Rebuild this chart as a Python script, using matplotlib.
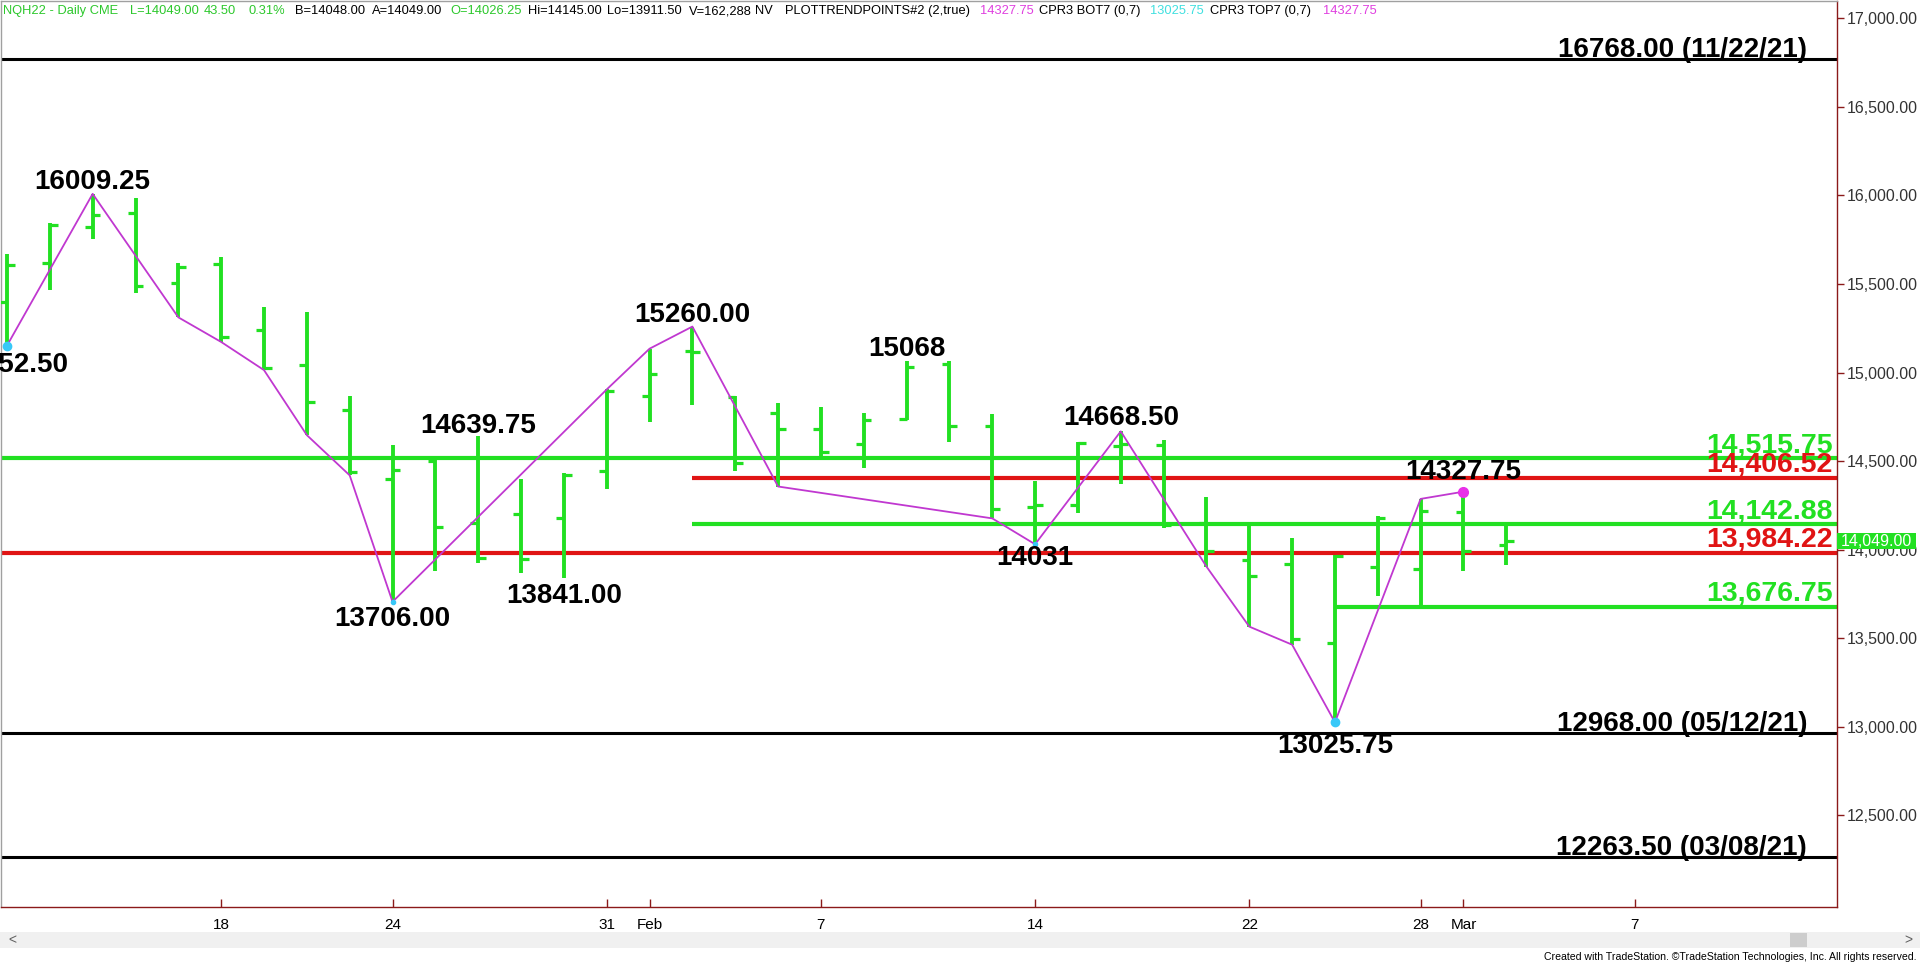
import numpy as np
import matplotlib.pyplot as plt
from matplotlib.patches import Rectangle
import matplotlib.transforms as mtransforms

plt.rcParams['font.family'] = ['Liberation Sans', 'DejaVu Sans']

# -------------------------------
# Daily bars NQH22 (Jan 10 - Mar 2, 2022)
# -------------------------------
dates = ['01/10', '01/11', '01/12', '01/13', '01/14', '01/18', '01/19', '01/20',
         '01/21', '01/24', '01/25', '01/26', '01/27', '01/28', '01/31', '02/01',
         '02/02', '02/03', '02/04', '02/07', '02/08', '02/09', '02/10', '02/11',
         '02/14', '02/15', '02/16', '02/17', '02/18', '02/22', '02/23', '02/24',
         '02/25', '02/28', '03/01', '03/02']
opens = [15400, 15619, 15824, 15900, 15505, 15616, 15239, 15042,
         14790, 14400, 14500, 14150, 14200, 14180, 14445, 14870,
         15120, 14860, 14770, 14680, 14595, 14740, 15050, 14696,
         14240, 14250, 14585, 14590, 14150, 13943, 13920, 13471,
         13905, 13892, 14212, 14026.25]
highs = [15672, 15845, 16009.25, 15985, 15620, 15655, 15370, 15343,
         14869, 14592, 14515, 14639.75, 14401, 14435, 14905, 15135,
         15260, 14870, 14830, 14806, 14772, 15064, 15068, 14768,
         14390, 14610, 14668.50, 14618, 14297, 14150, 14065, 13973,
         14193, 14287, 14327.75, 14145]
lows = [15152.50, 15464, 15754, 15450, 15312, 15173, 15014, 14647,
        14420, 13706, 13880, 13927, 13870, 13841, 14345, 14720,
        14815, 14446, 14357, 14520, 14460, 14730, 14608, 14177,
        14031, 14210, 14370, 14120, 13905, 13566, 13464, 13025.75,
        13741, 13676.75, 13882, 13911.50]
closes = [15606, 15832, 15889, 15487, 15597, 15201, 15028, 14834,
          14440, 14450, 14130, 13955, 13950, 14420, 14895, 14990,
          15115, 14490, 14680, 14550, 14730, 15030, 14696, 14232,
          14250, 14600, 14595, 14138, 13995, 13854, 13496, 13962,
          14180, 14221, 13995, 14049]

# date axis labels (bar index -> label), 38 = Mar 7 (future)
tick_idx = [5, 9, 14, 15, 19, 24, 29, 33, 34, 38]
tick_labels = ['18', '24', '31', 'Feb', '7', '14', '22', '28', 'Mar', '7']

# trend point zigzag (bar index, price)
zz_idx = [0, 2, 4, 5, 6, 7, 8, 9, 14, 15, 16, 18, 23, 24, 26, 28, 29, 30, 31, 33, 34]
zz_price = [15152.50, 16009.25, 15312, 15173, 15014, 14647, 14420, 13706, 14905,
            15135, 15260, 14357, 14177, 14031, 14668.50, 13905, 13566, 13464,
            13025.75, 14287, 14327.75]

# pivot labels
piv_idx = [0, 2, 9, 11, 13, 16, 21, 24, 26, 31, 34]
piv_price = [15152.50, 16009.25, 13706.00, 14639.75, 13841.00, 15260.00,
             15068, 14031, 14668.50, 13025.75, 14327.75]
piv_text = ['15152.50', '16009.25', '13706.00', '14639.75', '13841.00', '15260.00',
            '15068', '14031', '14668.50', '13025.75', '14327.75']
piv_side = ['below', 'above', 'below', 'above', 'below', 'above',
            'above', 'below', 'above', 'below', 'above']

# historical levels
level_prices = [16768.00, 12968.00, 12263.50]
level_texts = ['16768.00 (11/22/21)', '12968.00 (05/12/21)', '12263.50 (03/08/21)']

# CPR levels (start bar index, -1 = whole chart)
cpr_prices = [14515.75, 14406.52, 14142.88, 13984.22, 13676.75]
cpr_texts = ['14,515.75', '14,406.52', '14,142.88', '13,984.22', '13,676.75']
cpr_start = [-1, 16, 16, -1, 31]
cpr_kind = ['top', 'bot', 'top', 'bot', 'top']

last_price = 14049.00

GREEN = '#22E022'
RED = '#E01414'
MAGENTA = '#C038D0'
AXCOL = '#8B1A1A'

# -------------------------------
# Figure
# -------------------------------
W, H = 1920, 963
fig = plt.figure(figsize=(W / 100, H / 100), dpi=100)
ax_l, ax_r = 1 / W, 1837 / W
ax_b, ax_t = 1 - 907 / H, 1 - 1 / H
ax = fig.add_axes([ax_l, ax_b, ax_r - ax_l, ax_t - ax_b])

x = np.arange(len(dates))
xmax = 42.72
ax.set_xlim(-0.14, xmax)
ax.set_ylim(11983, 17098)

# levels
for p, t in zip(level_prices, level_texts):
    ax.axhline(p, color='black', lw=2.2, zorder=2)
    ax.annotate(t, (42.02, p), xytext=(0, 2), textcoords='offset pixels',
                ha='right', va='baseline', fontsize=20, fontweight='bold', color='black')

for p, t, s, k in zip(cpr_prices, cpr_texts, cpr_start, cpr_kind):
    c = GREEN if k == 'top' else RED
    x0 = -1 if s < 0 else s
    ax.hlines(p, x0, xmax + 1, color=c, lw=3.0, zorder=2)
    ax.annotate(t, (xmax - 0.1, p), xytext=(0, 6), textcoords='offset pixels',
                ha='right', va='baseline', fontsize=20.5, fontweight='bold', color=c,
                zorder=6)

# OHLC bars
tk = 0.18
ax.vlines(x, lows, highs, color=GREEN, lw=2.8, zorder=3)
ax.hlines(opens, x - tk, x, color=GREEN, lw=2.3, zorder=3)
ax.hlines(closes, x, x + tk, color=GREEN, lw=2.3, zorder=3)

# zigzag
ax.plot(zz_idx, zz_price, color=MAGENTA, lw=1.3, zorder=4)
ax.plot([0, 31], [lows[0], lows[31]], 'o', color='#38C8F8', ms=6, zorder=5)
ax.plot([9, 24], [lows[9], lows[24]], 'o', color='#38C8F8', ms=3, zorder=5)
ax.plot([34], [highs[34]], 'o', color='#E830E8', ms=7, zorder=5)

# pivot labels
piv_dx = [3, 0, 0, 0, 0, 0, 0, 0, 0, 0, 0]
piv_dy = [6, 5, 4, 3, 5, 5, 5, 1, 6, 11, 13]
for i, p, t, sd, dx, dy in zip(piv_idx, piv_price, piv_text, piv_side, piv_dx, piv_dy):
    if sd == 'above':
        ax.annotate(t, (i, p), xytext=(dx, dy), textcoords='offset pixels',
                    ha='center', va='baseline', fontsize=20, fontweight='bold',
                    color='black', zorder=6)
    else:
        ax.annotate(t, (i, p), xytext=(dx, -dy), textcoords='offset pixels',
                    ha='center', va='top', fontsize=20, fontweight='bold',
                    color='black', zorder=6)

# axes styling
for s in ['top', 'left']:
    ax.spines[s].set_color('#A0A0A0')
    ax.spines[s].set_linewidth(1)
for s in ['right', 'bottom']:
    ax.spines[s].set_color(AXCOL)
    ax.spines[s].set_linewidth(1)

ax.yaxis.tick_right()
yt = np.arange(12500, 17001, 500)
ax.set_yticks(yt)
ax.set_yticklabels([f'{v:,.2f}' for v in yt])
ax.tick_params(axis='y', direction='out', length=5, width=1, color=AXCOL,
               labelsize=11.5, labelcolor='#333333', pad=2)
ax.set_xticks(tick_idx)
ax.set_xticklabels(tick_labels)
ax.tick_params(axis='x', direction='in', length=6, width=1, color=AXCOL,
               labelsize=11, labelcolor='black', pad=8)

# last price box on the price axis
tr = mtransforms.blended_transform_factory(ax.transAxes, ax.transData)
ax.add_patch(Rectangle((1.0, last_price - 46), 79 / 1836, 92, transform=tr,
                       facecolor='#22E022', edgecolor='none', clip_on=False, zorder=7))
ax.text(1.0 + 39 / 1836, last_price, f'{last_price:,.2f}', transform=tr,
        ha='center', va='center', fontsize=11.5, color='white', clip_on=False, zorder=8)

# header line
hdr = [(3, 'NQH22 - Daily CME', '#2CC82C'), (130, 'L=14049.00', '#2CC82C'),
       (204, '43.50', '#2CC82C'), (248, '0.31%', '#2CC82C'),
       (295, 'B=14048.00', 'black'), (372, 'A=14049.00', 'black'),
       (450, 'O=14026.25', '#2CC82C'), (528, 'Hi=14145.00', 'black'),
       (607, 'Lo=13911.50', 'black'), (689, 'V=162,288', 'black'),
       (755, 'NV', 'black'), (785, 'PLOTTRENDPOINTS#2 (2,true)', 'black'),
       (980, '14327.75', '#E040E0'), (1039, 'CPR3 BOT7 (0,7)', 'black'),
       (1150, '13025.75', '#40E0E0'), (1210, 'CPR3 TOP7 (0,7)', 'black'),
       (1323, '14327.75', '#E040E0')]
for px, t, c in hdr:
    fig.text(px / W, 1 - 11 / H, t, color=c, fontsize=9.3,
             ha='left', va='center')

# scroll bar and footer
fig.patches.append(Rectangle((0, 1 - 948 / H), 1, 16 / H, transform=fig.transFigure,
                             facecolor='#F0F0F0', edgecolor='none'))
fig.patches.append(Rectangle((1790 / W, 1 - 947 / H), 17 / W, 14 / H,
                             transform=fig.transFigure, facecolor='#CDCDCD',
                             edgecolor='none'))
fig.text(8 / W, 1 - 940 / H, '<', fontsize=10, color='#606060', ha='left', va='center')
fig.text(1912 / W, 1 - 940 / H, '>', fontsize=10, color='#606060', ha='right', va='center')
fig.text(1916 / W, 1 - 957 / H,
         'Created with TradeStation. \u00a9TradeStation Technologies, Inc. All rights reserved.',
         fontsize=7.6, ha='right', va='center', color='black')

fig.savefig('out.png', dpi=100)
